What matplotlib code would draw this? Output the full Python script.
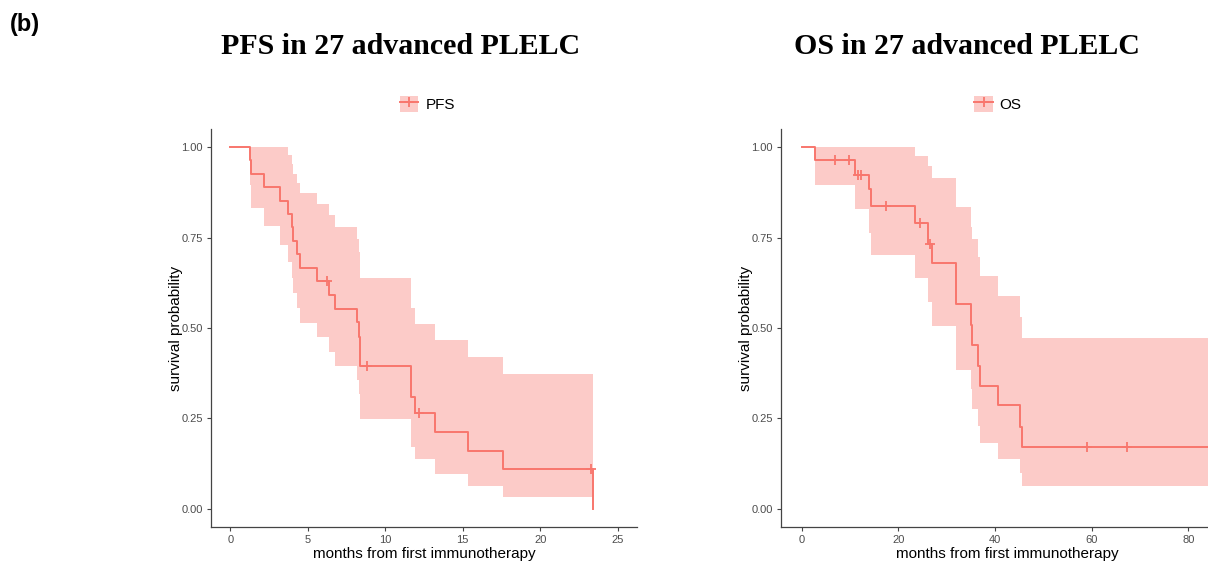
import numpy as np
import matplotlib
matplotlib.use("Agg")
import matplotlib.pyplot as plt
from matplotlib.patches import Patch
from matplotlib.lines import Line2D

plt.rcParams['font.family'] = ['Liberation Sans', 'DejaVu Sans']

# PFS curve (months, survival, 95% band)
pfs_time = [0, 1.24, 1.33, 2.19, 3.22, 3.71, 3.99, 4.07, 4.27, 4.50, 5.62, 6.39,
            6.77, 8.20, 8.32, 8.40, 11.68, 11.90, 13.20, 15.37, 17.60, 23.39]
pfs_surv = [1, .963, .926, .889, .852, .815, .778, .741, .704, .667, .630, .592,
            .552, .516, .474, .394, .310, .265, .213, .161, .109, 0]
pfs_upper = [1, 1, 1, 1, 1, .978, .953, .927, .900, .873, .843, .812,
             .778, .746, .709, .637, .554, .511, .468, .420, .372, .372]
pfs_lower = [1, .895, .833, .781, .730, .683, .637, .596, .554, .513, .474, .433,
             .394, .357, .318, .249, .172, .138, .097, .063, .032, .032]
pfs_censor = [6.26, 8.79, 12.2, 23.26]

# OS curve
os_time = [0, 2.7, 11.0, 14.0, 14.3, 23.55, 26.2, 27.05, 31.9, 35.05, 35.3,
           36.4, 37.0, 40.6, 45.1, 45.5, 85]
os_surv = [1, .963, .923, .884, .838, .789, .732, .679, .566, .508, .454,
           .396, .341, .286, .227, .171, .171]
os_upper = [1, 1, 1, 1, 1, .976, .947, .914, .835, .78, .746,
            .697, .643, .588, .530, .473, .473]
os_lower = [1, .895, .829, .762, .702, .638, .573, .505, .385, .331, .276,
            .23, .182, .138, .099, .063, .063]
os_censor = [6.9, 9.85, 11.6, 12.3, 17.4, 24.4, 26.5, 59.0, 67.3]

red = '#F8766D'
band = '#FCCBC8'


def surv_at(times, surv, t):
    i = np.searchsorted(times, t, side='right') - 1
    return np.array(surv)[i]


def km_panel(ax, t, s, lo, hi, cens, xlim, xticks, name, leg_x):
    ax.fill_between(t, lo, hi, step='post', color=band, lw=0)
    ax.step(t, s, where='post', color=red, lw=1.4)
    ax.plot(cens, surv_at(t, s, cens), '+', color=red, ms=7, mew=1.3)
    ax.set_xlim(*xlim)
    ax.set_ylim(-0.05, 1.05)
    ax.set_xticks(xticks)
    ax.set_yticks([0, .25, .5, .75, 1])
    ax.set_yticklabels(['0.00', '0.25', '0.50', '0.75', '1.00'])
    for sp in ['top', 'right']:
        ax.spines[sp].set_visible(False)
    for sp in ['left', 'bottom']:
        ax.spines[sp].set_color('#444444')
        ax.spines[sp].set_linewidth(0.9)
    ax.tick_params(length=3, width=0.8, color='#444444', labelsize=8,
                   labelcolor='#4D4D4D', pad=3)
    ax.set_xlabel('months from first immunotherapy', fontsize=11)
    ax.set_ylabel('survival probability', fontsize=11)
    ax.xaxis.set_label_coords(0.5, -0.050)
    h = (Patch(facecolor=band, edgecolor='none'),
         Line2D([], [], color=red, marker='+', lw=1.4, ms=7, mew=1.3))
    ax.legend([h], [name], loc='center', bbox_to_anchor=(leg_x, 1.063),
              frameon=False, fontsize=11, handlelength=1.2, handleheight=1.2,
              handletextpad=0.45, borderaxespad=0)


fig = plt.figure(figsize=(12.08, 5.62), dpi=100)
W, H = 1208, 562

ax1 = fig.add_axes([211 / W, (H - 527) / H, 426 / W, 398 / H])
km_panel(ax1, pfs_time, pfs_surv, pfs_lower, pfs_upper, pfs_censor,
         (-1.25, 26.25), [0, 5, 10, 15, 20, 25], 'PFS', 0.508)
ax1.yaxis.set_label_coords((183 - 211) / 426, 0.5)

ax2 = fig.add_axes([781 / W, (H - 527) / H, 452 / W, 398 / H])
km_panel(ax2, os_time, os_surv, os_lower, os_upper, os_censor,
         (-4.25, 89.25), [0, 20, 40, 60, 80], 'OS', 0.48)
ax2.yaxis.set_label_coords((753 - 781) / 452, 0.5)

fig.text(401 / W, 1 - 47 / H, 'PFS in 27 advanced PLELC', ha='center', va='center',
         family='Liberation Serif', weight='bold', fontsize=21.5)
fig.text(967 / W, 1 - 47 / H, 'OS in 27 advanced PLELC', ha='center', va='center',
         family='Liberation Serif', weight='bold', fontsize=21.5)
fig.text(10 / W, 1 - 24 / H, '(b)', ha='left', va='center', weight='bold', fontsize=17)

fig.savefig('out.png', dpi=100)
